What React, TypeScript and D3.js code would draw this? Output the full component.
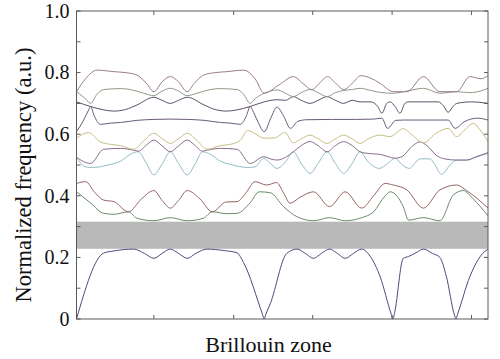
import React from "react";
import * as d3 from "d3";

type P = [number, number];

// y axis ticks
const yTicks = [0, 0.2, 0.4, 0.6, 0.8, 1.0];
const yTickLabels = ["0", "0.2", "0.4", "0.6", "0.8", "1.0"];
const yMinorTicks = [0.1, 0.3, 0.5, 0.7, 0.9];
// x ticks (position along the Brillouin-zone path, %)
const xTicks = [18.8, 38.2, 57.4, 76.7, 96.0];
// photonic band gap
const gapBand = [0.228, 0.316];

const band1: P[] = [[0,0],[6.6,0.214],[9.1,0.221],[13.9,0.227],[16.5,0.213],[18.8,0.197],[20.8,0.213],[22.8,0.227],[24.8,0.213],[26.9,0.197],[29,0.213],[31.7,0.227],[36,0.222],[39.0,0.215],[40.6,0.183],[45.2,0.015],[45.6,0],[46.0,0.015],[47.1,0.05],[51.1,0.213],[53.6,0.227],[55.6,0.213],[57.6,0.197],[59.5,0.213],[61.5,0.227],[63.4,0.213],[65.3,0.197],[67.3,0.213],[69.3,0.227],[71.4,0.203],[73.8,0.137],[76.5,0.015],[76.9,0],[77.3,0.02],[79.4,0.197],[80.7,0.203],[82.5,0.215],[84.3,0.227],[86.5,0.213],[88.3,0.2],[89.9,0.137],[91.8,0.015],[92.2,0],[92.6,0.015],[95.6,0.138],[99.7,0.224],[100,0.226]];
const band2: P[] = [[0,0.413],[3.4,0.377],[6.6,0.343],[9.1,0.34],[12.6,0.348],[14.7,0.327],[18.8,0.319],[22.8,0.329],[26.9,0.319],[30.8,0.327],[33,0.348],[36.4,0.342],[39,0.343],[42.2,0.377],[44.4,0.413],[47.1,0.41],[50.3,0.365],[53.6,0.332],[57.6,0.319],[61.5,0.329],[65.3,0.319],[69.3,0.329],[72.2,0.348],[75,0.40],[76.2,0.413],[79.4,0.365],[80.7,0.321],[84.3,0.329],[88.3,0.319],[91.6,0.403],[94,0.417],[96.4,0.39],[100,0.335]];
const band3: P[] = [[0,0.44],[2.2,0.446],[4.5,0.41],[6.6,0.386],[9.1,0.381],[12.6,0.348],[15.8,0.39],[18.8,0.417],[20.8,0.385],[22.8,0.36],[24.8,0.385],[26.9,0.417],[30,0.39],[33,0.348],[36.4,0.38],[39,0.381],[41.2,0.41],[43.4,0.446],[46.2,0.435],[48.6,0.443],[50.3,0.41],[51.9,0.376],[54.3,0.395],[57.6,0.413],[61.5,0.365],[65.3,0.413],[69.3,0.36],[72.2,0.40],[75,0.44],[77,0.435],[80.3,0.419],[84.3,0.36],[88.3,0.419],[92.4,0.435],[94.8,0.417],[100,0.36]];
const band4: P[] = [[0,0.525],[2.2,0.494],[3.9,0.492],[8.3,0.502],[10.7,0.512],[13.1,0.535],[15,0.543],[17,0.505],[18.8,0.468],[20.9,0.505],[22.8,0.543],[24.8,0.505],[26.9,0.468],[28.9,0.505],[30.6,0.543],[32.5,0.535],[35,0.512],[37.4,0.502],[41.7,0.492],[43.4,0.494],[45.5,0.522],[47.1,0.505],[48.7,0.489],[50.8,0.51],[52.7,0.543],[54.6,0.505],[56.8,0.473],[58.7,0.505],[60.9,0.543],[62.9,0.505],[64.9,0.473],[67,0.505],[68.9,0.543],[70.9,0.51],[73.6,0.489],[75.6,0.505],[77.4,0.522],[79.2,0.5],[80.9,0.489],[82.5,0.51],[83.5,0.52],[85.9,0.52],[86.9,0.505],[88.7,0.47],[90.8,0.5],[92.4,0.516],[94.8,0.516],[97.1,0.525],[100,0.538]];
const band5: P[] = [[0,0.525],[3.4,0.505],[6.6,0.551],[10.7,0.554],[13.9,0.548],[15,0.545],[17,0.565],[18.8,0.581],[20.8,0.562],[22.8,0.543],[24.8,0.562],[26.9,0.581],[28.7,0.565],[30.6,0.545],[31.7,0.548],[35,0.554],[39,0.551],[42.2,0.505],[45.5,0.527],[47.1,0.52],[48.7,0.516],[50.8,0.525],[52.7,0.543],[54.6,0.563],[56.8,0.576],[58.7,0.563],[60.9,0.543],[62.9,0.563],[64.9,0.576],[67,0.563],[68.9,0.543],[71.2,0.537],[73.6,0.535],[75.8,0.527],[77.4,0.522],[79.2,0.528],[81.5,0.56],[83.4,0.575],[85.4,0.56],[87.4,0.532],[89.4,0.52],[92.4,0.516],[94.8,0.516],[97.1,0.527],[100,0.54]];
const band6: P[] = [[0,0.587],[2.9,0.605],[5.8,0.575],[8.3,0.567],[10.7,0.563],[13.9,0.551],[16.3,0.578],[18.8,0.603],[20.9,0.585],[22.8,0.57],[24.8,0.585],[26.9,0.603],[29.4,0.578],[31.7,0.551],[35,0.563],[37.4,0.567],[39.8,0.58],[41.6,0.612],[43.6,0.6],[45.6,0.587],[48.3,0.588],[50.6,0.606],[52.7,0.572],[54.6,0.585],[56.8,0.597],[58.7,0.585],[60.9,0.57],[62.9,0.585],[64.9,0.597],[67,0.585],[68.9,0.57],[70.9,0.585],[73.8,0.597],[76.2,0.592],[79.4,0.618],[81.5,0.598],[84.3,0.572],[87.4,0.603],[90.3,0.619],[92.4,0.592],[94.4,0.615],[96.4,0.635],[98.3,0.61],[100,0.576]];
const band7: P[] = [[0,0.608],[1.5,0.64],[3.0,0.68],[3.4,0.69],[4.3,0.66],[5.8,0.632],[8.3,0.636],[10.7,0.638],[14.7,0.645],[18.8,0.648],[22.8,0.649],[26.9,0.648],[31,0.645],[35,0.638],[37.4,0.636],[39.8,0.632],[41.3,0.66],[42.2,0.69],[42.7,0.68],[44.1,0.64],[45.6,0.608],[47.3,0.655],[48.7,0.688],[50.3,0.66],[52,0.619],[53.8,0.642],[56,0.647],[62,0.648],[68,0.648],[72.2,0.649],[74.2,0.652],[75.6,0.619],[77.6,0.645],[79.4,0.646],[84.3,0.646],[90.3,0.646],[92,0.619],[94.2,0.64],[97.4,0.652],[100,0.646]];
const band8: P[] = [[0,0.705],[3.4,0.69],[6.6,0.679],[9.1,0.675],[11.9,0.68],[14.7,0.695],[18.8,0.72],[20.8,0.71],[22.8,0.70],[24.8,0.71],[26.9,0.72],[31,0.695],[33.7,0.68],[36.5,0.675],[39,0.679],[42.2,0.69],[45.6,0.705],[47.3,0.71],[48.7,0.712],[50.8,0.71],[52.7,0.722],[54.6,0.71],[56.8,0.70],[58.7,0.71],[60.9,0.722],[62.9,0.71],[64.9,0.70],[67,0.71],[68.9,0.705],[71.5,0.705],[73.2,0.69],[74.2,0.668],[75.4,0.70],[76.2,0.705],[77.4,0.69],[78.6,0.668],[79.8,0.70],[80.7,0.705],[84.3,0.705],[87.9,0.705],[89.3,0.69],[90.3,0.671],[91.5,0.69],[92.4,0.70],[96,0.705],[100,0.70]];
const band9: P[] = [[0,0.738],[2.2,0.715],[3.4,0.70],[5,0.73],[6.6,0.745],[10.7,0.748],[13.1,0.745],[16.3,0.733],[18.8,0.725],[20.8,0.74],[22.8,0.749],[24.8,0.74],[26.9,0.725],[29.3,0.733],[32.5,0.745],[35,0.748],[39,0.745],[40.6,0.73],[42.2,0.70],[43.4,0.715],[45.6,0.733],[47.1,0.74],[48.7,0.744],[50.8,0.733],[52.7,0.722],[54.6,0.735],[56.8,0.745],[58.7,0.735],[60.9,0.722],[62.9,0.735],[64.9,0.742],[67,0.745],[68.9,0.749],[71.5,0.742],[74.2,0.735],[77,0.733],[80.3,0.74],[84.3,0.749],[88.3,0.733],[92.4,0.738],[95.6,0.735],[98.1,0.74],[100,0.749]];
const band10: P[] = [[0,0.738],[2.2,0.78],[5,0.808],[9.1,0.803],[11.9,0.80],[14.7,0.792],[17,0.765],[18.8,0.738],[20.8,0.77],[22.8,0.787],[24.8,0.77],[26.9,0.738],[28.6,0.765],[30.9,0.792],[33.7,0.80],[36.5,0.803],[40.6,0.808],[43.4,0.78],[45.6,0.733],[49.2,0.76],[52.7,0.787],[55,0.765],[57.2,0.745],[59,0.765],[61,0.787],[63,0.765],[65,0.745],[67,0.765],[69.1,0.79],[71.5,0.782],[73.8,0.765],[77,0.738],[80.3,0.738],[84.3,0.787],[88.3,0.738],[92.4,0.738],[95.6,0.787],[98.3,0.78],[100,0.79]];

const bands = [band1, band2, band3, band4, band5, band6, band7, band8, band9, band10];
const bandColors = ["#4c4a7c", "#6c8a6a", "#946464", "#92bcc6", "#8a6c8c", "#c8bf86", "#6a5a78", "#5c5068", "#8e9a88", "#9a7a90"];

const W = 500;
const H = 359;
const L = 76.5;
const R = 488;
const T = 11;
const B = 319;

export default function App() {
  const x = d3.scaleLinear().domain([0, 100]).range([L, R]);
  const y = d3.scaleLinear().domain([0, 1]).range([B, T]);
  const line = d3
    .line<P>()
    .x((d) => x(d[0]))
    .y((d) => y(d[1]))
    .curve(d3.curveMonotoneX);
  const axisColor = "#5a5a5a";
  const font = "Liberation Serif, Times New Roman, Tinos, DejaVu Serif, Noto Serif, FreeSerif, serif";
  const tl = 4;
  return (
    <svg
      width={W}
      height={H}
      style={{ position: "absolute", left: 0, top: 0, background: "#fff" }}
    >
      <rect
        x={L}
        y={y(gapBand[1])}
        width={R - L}
        height={y(gapBand[0]) - y(gapBand[1])}
        fill="#b9b9b9"
      />
      {bands.map((b, i) => (
        <path
          key={i}
          d={line(b) || ""}
          fill="none"
          stroke={bandColors[i]}
          strokeWidth={1}
        />
      ))}
      <rect x={L} y={T} width={R - L} height={B - T} fill="none" stroke={axisColor} strokeWidth={1} />
      {[...yTicks, ...yMinorTicks].map((v, i) => (
        <g key={"yt" + i}>
          <line x1={L} x2={L + tl} y1={y(v)} y2={y(v)} stroke={axisColor} />
          <line x1={R} x2={R - tl} y1={y(v)} y2={y(v)} stroke={axisColor} />
        </g>
      ))}
      {xTicks.map((v, i) => (
        <g key={"xt" + i}>
          <line x1={x(v)} x2={x(v)} y1={B} y2={B - tl} stroke={axisColor} />
          <line x1={x(v)} x2={x(v)} y1={T} y2={T + tl} stroke={axisColor} />
        </g>
      ))}
      {yTicks.map((v, i) => (
        <text
          key={"yl" + i}
          x={L - 7}
          y={y(v)}
          dy="0.34em"
          textAnchor="end"
          fontFamily={font}
          fontSize={20}
          fill="#111"
        >
          {yTickLabels[i]}
        </text>
      ))}
      <text
        transform={`translate(31,175) rotate(-90)`}
        textAnchor="middle"
        fontFamily={font}
        fontSize={22.5}
        fill="#111"
      >
        Normalized frequency (a.u.)
      </text>
      <text
        x={268.5}
        y={352}
        textAnchor="middle"
        fontFamily={font}
        fontSize={22}
        fill="#111"
      >
        Brillouin zone
      </text>
    </svg>
  );
}
